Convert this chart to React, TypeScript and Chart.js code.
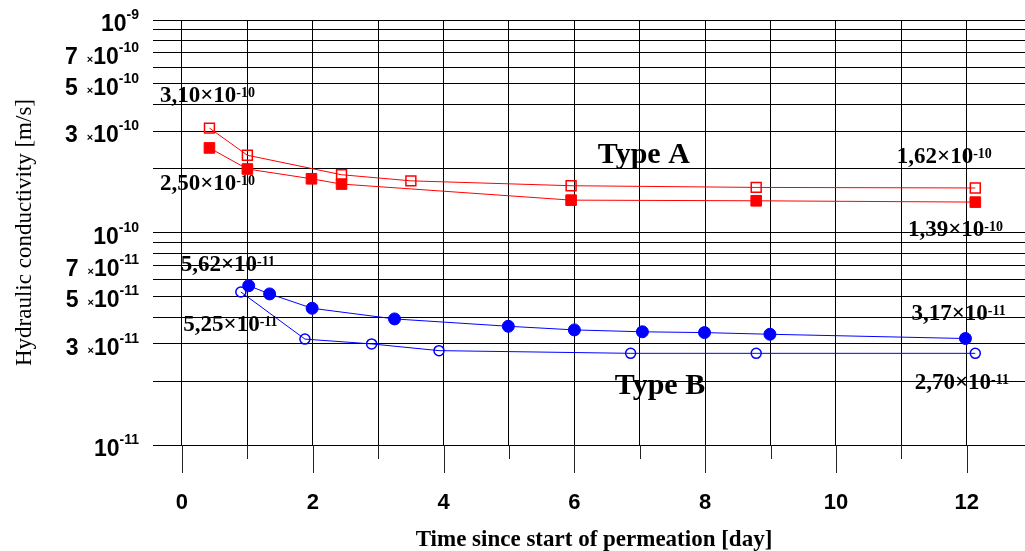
import React, { useEffect, useRef } from 'react';
import { Chart, registerables } from 'chart.js';

Chart.register(...registerables);

// ---- data (days, m/s) ----
const A_OPEN_X = [0.42, 1.0, 2.44, 3.5, 5.95, 8.78, 12.13];
const A_OPEN_Y = [3.10e-10, 2.31e-10, 1.87e-10, 1.75e-10, 1.66e-10, 1.63e-10, 1.62e-10];
const A_FILLED_X = [0.42, 1.0, 1.98, 2.44, 5.95, 8.78, 12.13];
const A_FILLED_Y = [2.50e-10, 1.99e-10, 1.79e-10, 1.69e-10, 1.42e-10, 1.41e-10, 1.39e-10];
const B_FILLED_X = [1.02, 1.34, 1.99, 3.25, 4.99, 6.0, 7.04, 7.99, 8.99, 11.98];
const B_FILLED_Y = [5.62e-11, 5.14e-11, 4.40e-11, 3.92e-11, 3.62e-11, 3.48e-11, 3.41e-11, 3.38e-11, 3.32e-11, 3.17e-11];
const B_OPEN_X = [0.90, 1.88, 2.90, 3.93, 6.86, 8.78, 12.13];
const B_OPEN_Y = [5.25e-11, 3.15e-11, 2.99e-11, 2.78e-11, 2.70e-11, 2.70e-11, 2.70e-11];

// ---- axes ----
const X_MIN = -0.443;
const X_MAX = 12.89;
const X_TICKS = [0, 1, 2, 3, 4, 5, 6, 7, 8, 9, 10, 11, 12];
const Y_MIN = 1e-11;
const Y_MAX = 1e-9;
const Y_GRID = [
  1e-11, 2e-11, 3e-11, 4e-11, 5e-11, 6e-11, 7e-11, 8e-11, 9e-11,
  1e-10, 2e-10, 3e-10, 4e-10, 5e-10, 6e-10, 7e-10, 8e-10, 9e-10,
  1e-9,
];
const Y_LABEL_VALUES = [1e-9, 7e-10, 5e-10, 3e-10, 1e-10, 7e-11, 5e-11, 3e-11, 1e-11];
const Y_LABEL_MANTISSAS = ['', '7', '5', '3', '', '7', '5', '3', ''];
const Y_LABEL_EXPONENTS = ['-9', '-10', '-10', '-10', '-10', '-11', '-11', '-11', '-11'];

const X_TITLE = 'Time since start of permeation [day]';
const Y_TITLE = 'Hydraulic conductivity [m/s]';

// ---- annotations ----
const ANN_TEXT = ['3,10×10', '2,50×10', '1,62×10', '1,39×10', '5,62×10', '5,25×10', '3,17×10', '2,70×10'];
const ANN_EXP = ['-10', '-10', '-10', '-10', '-11', '-11', '-11', '-11'];
const ANN_X = [-0.336, -0.336, 10.93, 11.10, -0.02, 0.02, 11.154, 11.204];
const ANN_Y = [4.11e-10, 1.585e-10, 2.13e-10, 9.58e-11, 6.61e-11, 3.45e-11, 3.87e-11, 1.83e-11];
const TYPE_TEXT = ['Type A', 'Type B'];
const TYPE_X = [6.359, 6.619];
const TYPE_Y = [2.12e-10, 1.74e-11];

const RED = '#ff0000';
const BLUE = '#0000ff';
const SANS = '"Liberation Sans", Arial, sans-serif';
const SERIF = '"Liberation Serif", "Times New Roman", serif';

const pts = (xs: number[], ys: number[]) => xs.map((x, i) => ({ x, y: ys[i] }));

const overlay = {
  id: 'overlay',
  afterDraw(chart: any) {
    const ctx = chart.ctx as CanvasRenderingContext2D;
    const xs = chart.scales.x;
    const ys = chart.scales.y;
    const area = chart.chartArea;
    ctx.save();

    // tick marks below the x axis
    ctx.strokeStyle = '#222';
    ctx.lineWidth = 1;
    X_TICKS.forEach((v) => {
      const px = Math.round(xs.getPixelForValue(v)) + 0.5;
      const len = v % 2 === 0 ? 28 : 14;
      ctx.beginPath();
      ctx.moveTo(px, area.bottom);
      ctx.lineTo(px, area.bottom + len);
      ctx.stroke();
    });

    // y tick labels with superscript exponents
    ctx.fillStyle = '#000';
    ctx.textBaseline = 'alphabetic';
    ctx.textAlign = 'right';
    const R = 139;
    Y_LABEL_VALUES.forEach((v, i) => {
      const py = ys.getPixelForValue(v);
      ctx.font = `bold 14px ${SANS}`;
      const sw = ctx.measureText(Y_LABEL_EXPONENTS[i]).width;
      ctx.fillText(Y_LABEL_EXPONENTS[i], R, py - 1);
      ctx.font = `bold 23px ${SANS}`;
      const w10 = ctx.measureText('10').width;
      ctx.fillText('10', R - sw, py + 11);
      if (Y_LABEL_MANTISSAS[i]) {
        ctx.font = `bold 11px ${SANS}`;
        const wx = ctx.measureText('×').width;
        ctx.fillText('×', R - sw - w10, py + 10);
        ctx.font = `bold 23px ${SANS}`;
        ctx.fillText(Y_LABEL_MANTISSAS[i], R - sw - w10 - wx - 9, py + 11);
      }
    });

    // value annotations
    ctx.textAlign = 'left';
    ANN_TEXT.forEach((t, i) => {
      const px = xs.getPixelForValue(ANN_X[i]);
      const py = ys.getPixelForValue(ANN_Y[i]);
      ctx.font = `bold 23px ${SERIF}`;
      const w = ctx.measureText(t).width;
      ctx.fillText(t, px, py);
      ctx.font = `bold 14px ${SERIF}`;
      ctx.fillText(ANN_EXP[i], px + w, py - 5);
    });

    // type labels
    ctx.font = `bold 30px ${SERIF}`;
    TYPE_TEXT.forEach((t, i) => {
      ctx.fillText(t, xs.getPixelForValue(TYPE_X[i]), ys.getPixelForValue(TYPE_Y[i]));
    });

    // axis titles
    ctx.textAlign = 'center';
    ctx.font = `bold 23px ${SERIF}`;
    ctx.fillText(X_TITLE, 594, 546);

    ctx.save();
    ctx.translate(31, (area.top + area.bottom) / 2);
    ctx.rotate(-Math.PI / 2);
    ctx.font = `23px ${SERIF}`;
    ctx.fillText(Y_TITLE, 0, 0);
    ctx.restore();

    ctx.restore();
  },
};

export default function App() {
  const ref = useRef<HTMLCanvasElement>(null);

  useEffect(() => {
    if (!ref.current) return;
    const chart = new Chart(ref.current, {
      type: 'line',
      data: {
        datasets: [
          {
            label: 'Type A open',
            data: pts(A_OPEN_X, A_OPEN_Y),
            borderColor: RED,
            borderWidth: 1,
            pointStyle: 'rect',
            pointRadius: 7,
            pointBorderWidth: 1.5,
            pointBackgroundColor: 'rgba(0,0,0,0)',
            pointBorderColor: RED,
          },
          {
            label: 'Type A filled',
            data: pts(A_FILLED_X, A_FILLED_Y),
            borderColor: RED,
            borderWidth: 1,
            pointStyle: 'rect',
            pointRadius: 7.5,
            pointBorderWidth: 1,
            pointBackgroundColor: RED,
            pointBorderColor: RED,
          },
          {
            label: 'Type B filled',
            data: pts(B_FILLED_X, B_FILLED_Y),
            borderColor: BLUE,
            borderWidth: 1,
            pointStyle: 'circle',
            pointRadius: 6,
            pointBorderWidth: 1,
            pointBackgroundColor: BLUE,
            pointBorderColor: BLUE,
          },
          {
            label: 'Type B open',
            data: pts(B_OPEN_X, B_OPEN_Y),
            borderColor: BLUE,
            borderWidth: 1,
            pointStyle: 'circle',
            pointRadius: 5,
            pointBorderWidth: 1.5,
            pointBackgroundColor: 'rgba(0,0,0,0)',
            pointBorderColor: BLUE,
          },
        ],
      },
      options: {
        animation: false,
        responsive: false,
        maintainAspectRatio: false,
        devicePixelRatio: 1,
        layout: { autoPadding: false, padding: { top: 20, left: 0, right: 0, bottom: 0 } },
        plugins: {
          legend: { display: false },
          tooltip: { enabled: false },
        },
        scales: {
          x: {
            type: 'linear',
            min: X_MIN,
            max: X_MAX,
            afterBuildTicks: (scale: any) => {
              scale.ticks = X_TICKS.map((v) => ({ value: v }));
            },
            afterFit: (scale: any) => {
              scale.height = 106;
              scale.paddingLeft = 0;
              scale.paddingRight = 0;
            },
            grid: { color: '#000', lineWidth: 1, drawTicks: false },
            border: { display: true, color: '#000', width: 1 },
            ticks: {
              autoSkip: false,
              maxRotation: 0,
              padding: 45,
              color: '#000',
              font: { family: SANS, size: 22, weight: 'bold' },
              callback: (v: any) => (Number(v) % 2 === 0 ? String(v) : ''),
            },
          },
          y: {
            type: 'logarithmic',
            min: Y_MIN,
            max: Y_MAX,
            afterBuildTicks: (scale: any) => {
              scale.ticks = Y_GRID.map((v) => ({ value: v }));
            },
            afterFit: (scale: any) => {
              scale.width = 153;
            },
            grid: { color: '#000', lineWidth: 1, drawTicks: false },
            border: { display: false },
            ticks: { display: false },
          },
        },
      },
      plugins: [overlay],
    } as any);
    return () => chart.destroy();
  }, []);

  return (
    <div style={{ position: 'fixed', left: 0, top: 0, width: 1025, height: 551, background: '#fff' }}>
      <canvas ref={ref} width={1025} height={551} style={{ display: 'block' }} />
    </div>
  );
}
